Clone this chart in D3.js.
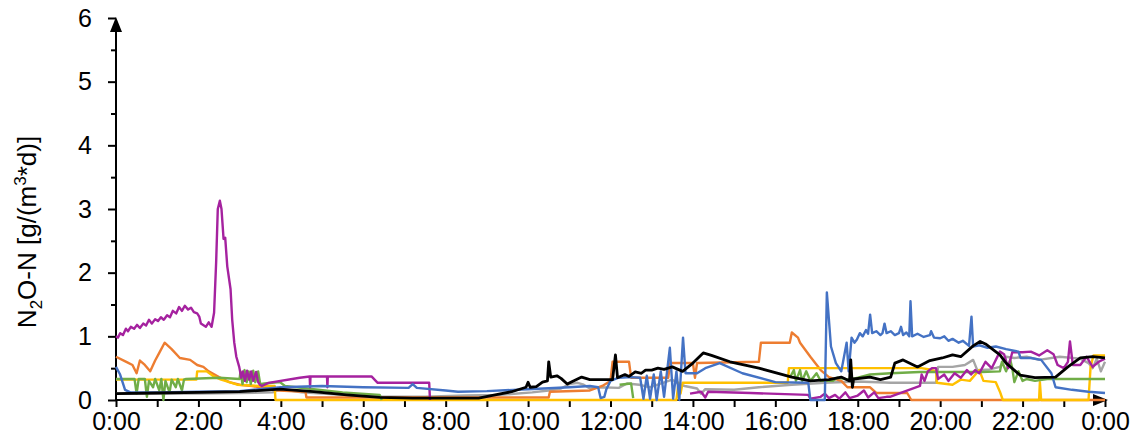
<!DOCTYPE html>
<html>
<head>
<meta charset="utf-8">
<script src="https://cdn.jsdelivr.net/npm/d3@7"></script>
<style>
  body { margin: 0; background: #fff; }
  svg { font-family: "Liberation Sans", Arial, sans-serif; }
</style>
</head>
<body>
<div id="chart"></div>
<script>
// x labels every 2 hours, ticks every hour
var xLabels = ["0:00","2:00","4:00","6:00","8:00","10:00","12:00","14:00","16:00","18:00","20:00","22:00","0:00"]
var yLabels = ["0","1","2","3","4","5","6"]

// [hour, N2O-N], null = no line
var purple = [[0,1.00],[0.05,0.98],[0.1,1.05],[0.17,1.02],[0.24,1.12],[0.29,1.08],[0.36,1.15],[0.44,1.12],[0.51,1.18],[0.58,1.13],[0.66,1.2],[0.73,1.17],[0.8,1.26],[0.87,1.2],[0.95,1.27],[1.02,1.24],[1.09,1.3],[1.16,1.26],[1.24,1.33],[1.31,1.3],[1.38,1.4],[1.46,1.36],[1.53,1.46],[1.6,1.4],[1.67,1.48],[1.75,1.42],[1.82,1.45],[1.89,1.38],[1.97,1.36],[2.02,1.31],[2.06,1.2],[2.18,1.15],[2.25,1.22],[2.32,1.15],[2.38,1.37],[2.43,2.16],[2.47,3.0],[2.52,3.13],[2.56,3.0],[2.61,2.53],[2.65,2.55],[2.7,2.1],[2.78,1.74],[2.82,1.26],[2.87,0.9],[2.92,0.68],[2.99,0.52],[3.04,0.35],[3.08,0.45],[3.13,0.3],[3.18,0.46],[3.23,0.32],[3.28,0.45],[3.33,0.3],[3.4,0.44],[3.45,0.28],[3.49,0.24],[3.54,0.22],[3.7,0.27],[4.46,0.35],[4.7,0.37],[4.71,0.2],[4.72,0.37],[5.12,0.37],[5.13,0.2],[5.14,0.37],[6.2,0.37],[6.35,0.27],[7.6,0.27],[7.62,0.0],[7.63,null],[13.9,null],[13.93,0.1],[14.2,0.13],[14.3,0.04],[14.37,0.13],[15.4,0.11],[16.8,0.08],[16.85,0.02],[17.1,0.05],[17.2,0.1],[17.3,0.03],[17.45,0.08],[17.55,0.02],[17.7,0.12],[17.8,0.03],[18.0,0.07],[18.15,0.15],[18.25,0.04],[18.4,0.12],[18.5,0.03],[18.7,0.05],[18.78,0.05],[19.51,0.22],[19.55,0.4],[19.62,0.3],[19.7,0.45],[19.8,0.5],[19.9,0.5],[19.95,0.33],[20.1,0.4],[20.2,0.3],[20.35,0.42],[20.5,0.35],[20.65,0.47],[20.75,0.4],[20.85,0.47],[20.95,0.42],[21.1,0.6],[21.25,0.5],[21.45,0.76],[21.55,0.72],[21.65,0.5],[21.75,0.75],[22.0,0.75],[22.2,0.76],[22.4,0.7],[22.6,0.78],[22.75,0.72],[22.85,0.55],[23.0,0.5],[23.1,0.6],[23.15,0.92],[23.22,0.55],[23.4,0.55],[23.55,0.68],[23.7,0.52],[23.85,0.6],[24,0.65]]

var blue = [[0,0.52],[0.1,0.4],[0.22,0.16],[0.35,0.12],[1,0.12],[2,0.13],[3,0.14],[4,0.2],[5,0.22],[6,0.2],[7.1,0.19],[7.2,0.25],[7.3,0.19],[8,0.15],[8.3,0.13],[9,0.14],[10,0.17],[11,0.2],[11.5,0.22],[11.7,0.2],[11.76,0.03],[11.85,0.05],[11.9,0.17],[12.0,0.3],[12.2,0.35],[12.5,0.36],[12.72,0.35],[12.8,0.02],[12.88,0.38],[12.96,0.02],[13.05,0.4],[13.12,0.0],[13.22,0.45],[13.3,0.05],[13.44,0.82],[13.52,0.02],[13.6,0.45],[13.67,0.0],[13.76,0.98],[13.82,0.42],[14.1,0.42],[14.3,0.5],[14.65,0.58],[15.2,0.42],[16.0,0.28],[16.8,0.27],[16.85,0.0],[17.2,0.0],[17.25,1.69],[17.35,0.84],[17.47,0.58],[17.6,0.45],[17.73,0.9],[17.78,0.45],[17.85,0.98],[17.92,0.9],[17.98,0.95],[18.05,1.05],[18.12,1.0],[18.2,1.1],[18.25,1.04],[18.3,1.34],[18.35,1.05],[18.45,1.08],[18.55,1.02],[18.6,1.05],[18.65,1.2],[18.7,1.05],[18.8,1.08],[18.9,1.02],[19.0,1.05],[19.05,1.15],[19.1,1.02],[19.18,1.06],[19.25,1.0],[19.28,1.55],[19.32,1.0],[19.45,1.04],[19.6,0.99],[19.75,1.02],[19.78,1.08],[19.85,0.98],[20.0,0.97],[20.1,1.0],[20.2,0.93],[20.3,0.96],[20.45,0.9],[20.55,0.93],[20.7,0.85],[20.76,1.31],[20.8,0.84],[20.95,0.86],[21.15,0.82],[21.35,0.84],[21.6,0.8],[21.9,0.76],[21.95,0.66],[22.2,0.66],[22.45,0.63],[22.7,0.42],[22.8,0.2],[23.2,0.16],[23.6,0.13],[24,0.11]]

var orange = [[0,0.68],[0.25,0.6],[0.4,0.55],[0.5,0.42],[0.58,0.62],[0.7,0.55],[0.83,0.45],[0.95,0.62],[1.05,0.74],[1.18,0.9],[1.35,0.8],[1.55,0.66],[1.8,0.63],[1.97,0.55],[2.12,0.52],[2.25,0.45],[2.5,0.36],[2.75,0.28],[3.0,0.24],[3.3,0.22],[3.95,0.15],[4.6,0.13],[4.62,0.04],[10.5,0.04],[10.53,0.13],[11.5,0.15],[11.8,0.22],[12.0,0.3],[12.05,0.6],[12.45,0.6],[12.5,0.35],[13.4,0.35],[13.45,0.58],[14.0,0.58],[14.05,0.35],[14.1,0.58],[15.6,0.6],[15.65,0.9],[16.35,0.9],[16.4,1.06],[16.55,0.98],[16.6,0.9],[16.85,0.68],[17.1,0.47],[17.3,0.36],[17.6,0.3],[17.75,0.2],[18.3,0.2],[18.45,0.11],[19.2,0.11],[19.3,0.0],[24,0.0]]

var yellow = [[0,0.32],[1.95,0.32],[1.97,0.45],[2.2,0.45],[2.35,0.38],[2.55,0.32],[2.75,0.28],[2.94,0.24],[3.5,0.22],[3.85,0.22],[3.87,0.0],[13.6,0.0],[13.65,0.27],[13.7,0.1],[13.75,0.27],[16.3,0.27],[16.33,0.5],[19.55,0.5],[19.75,0.48],[19.9,0.45],[19.92,0.27],[20.3,0.24],[20.5,0.32],[20.72,0.3],[20.95,0.47],[21.05,0.3],[21.35,0.28],[21.45,0.13],[21.52,0.0],[22.4,0.0],[22.42,0.28],[22.45,0.0],[23.6,0.0],[23.65,0.52],[23.72,0.7],[24,0.7]]

var green = [[0,0.33],[0.45,0.33],[0.5,0.1],[0.55,0.33],[0.7,0.33],[0.75,0.05],[0.8,0.3],[0.9,0.2],[0.95,0.33],[1.05,0.15],[1.1,0.33],[1.15,0.0],[1.2,0.3],[1.3,0.12],[1.35,0.32],[1.45,0.2],[1.5,0.33],[1.6,0.15],[1.65,0.32],[1.7,0.33],[2.5,0.35],[3.0,0.33],[3.02,0.45],[3.07,0.25],[3.12,0.47],[3.17,0.28],[3.22,0.45],[3.27,0.25],[3.33,0.46],[3.38,0.28],[3.45,0.45],[3.5,0.25],[3.6,0.26],[3.98,0.28],[4.1,0.22],[5.5,0.12],[6.4,0.08],[6.45,0.0],[6.46,null],[12.2,null],[12.22,0.24],[12.5,0.26],[12.55,0.03],[12.56,null],[16.3,null],[16.35,0.35],[16.45,0.47],[16.5,0.3],[16.6,0.47],[16.65,0.3],[16.75,0.45],[16.85,0.3],[17.0,0.42],[17.1,0.3],[17.4,0.3],[17.5,0.35],[17.8,0.32],[18.0,0.35],[18.3,0.4],[18.8,0.42],[19.5,0.44],[20.2,0.44],[21.0,0.44],[21.45,0.45],[21.5,0.6],[21.6,0.45],[21.7,0.63],[21.75,0.5],[21.8,0.28],[21.9,0.45],[22.0,0.3],[22.1,0.33],[22.3,0.3],[22.6,0.33],[24,0.33]]

var gray = [[0,0.1],[1,0.1],[2,0.1],[3,0.11],[3.8,0.12],[4,0.17],[4.5,0.12],[5.5,0.08],[6.4,0.05],[7.5,0.05],[8.5,0.07],[9.3,0.08],[10.1,0.12],[10.5,0.15],[10.8,0.18],[11.0,0.25],[11.2,0.27],[11.35,0.24],[11.5,0.18],[11.75,0.2],[12.2,0.19],[12.4,0.26],[12.7,0.24],[12.95,0.2],[13.5,0.32],[13.65,0.25],[13.8,0.22],[14.1,0.18],[14.2,0.1],[14.3,0.17],[15.0,0.16],[15.6,0.2],[16.4,0.24],[17.2,0.27],[18.0,0.29],[18.8,0.27],[19.9,0.27],[19.95,0.52],[20.3,0.52],[20.6,0.55],[20.8,0.63],[20.9,0.47],[21.2,0.48],[21.45,0.52],[21.6,0.68],[21.8,0.66],[22.1,0.68],[22.4,0.63],[22.9,0.68],[23.4,0.65],[23.6,0.58],[23.7,0.5],[23.8,0.65],[23.9,0.45],[24,0.6]]

var black = [[0,0.1],[1,0.11],[2,0.12],[3,0.13],[3.98,0.17],[4.8,0.13],[5.6,0.08],[6.4,0.04],[7.2,0.03],[8.8,0.03],[9.2,0.08],[9.6,0.13],[9.95,0.2],[10.0,0.28],[10.05,0.2],[10.2,0.21],[10.35,0.28],[10.47,0.3],[10.5,0.6],[10.55,0.36],[10.7,0.38],[10.8,0.34],[10.95,0.25],[11.1,0.3],[11.3,0.36],[11.5,0.32],[11.7,0.32],[12.05,0.32],[12.12,0.71],[12.17,0.35],[12.35,0.4],[12.45,0.37],[12.6,0.44],[12.75,0.42],[12.85,0.47],[13.0,0.47],[13.15,0.5],[13.3,0.48],[13.5,0.52],[13.75,0.45],[14.0,0.58],[14.25,0.74],[14.45,0.7],[14.9,0.6],[15.6,0.5],[16.4,0.36],[16.85,0.3],[17.3,0.32],[17.6,0.36],[17.8,0.3],[17.83,0.63],[17.87,0.2],[17.9,0.33],[18.3,0.36],[18.55,0.32],[18.8,0.36],[18.9,0.58],[19.1,0.63],[19.45,0.52],[19.75,0.62],[20.05,0.66],[20.3,0.71],[20.5,0.68],[20.8,0.85],[20.97,0.92],[21.1,0.88],[21.45,0.71],[21.6,0.58],[21.94,0.39],[22.3,0.35],[22.8,0.36],[23.1,0.52],[23.4,0.66],[23.7,0.68],[24,0.66]]

var series = [
  {data: gray, color: "#A5A5A5", w: 2.4},
  {data: orange, color: "#ED7D31", w: 2.4},
  {data: yellow, color: "#FFC000", w: 2.4},
  {data: green, color: "#70AD47", w: 2.4},
  {data: purple, color: "#A5229F", w: 2.4},
  {data: blue, color: "#4472C4", w: 2.4},
  {data: black, color: "#000000", w: 2.8}
]

var width = 1138, height = 446
var x0 = 116, x1 = 1105, yTop = 18, yBot = 400

var svg = d3.select("#chart").append("svg")
  .attr("width", width)
  .attr("height", height)

var x = d3.scaleLinear().domain([0, 24]).range([x0, x1])
var y = d3.scaleLinear().domain([0, 6]).range([yBot, yTop])

// x axis
var xAxis = d3.axisBottom(x)
  .tickValues(d3.range(0, 25, 1))
  .tickSizeInner(7)
  .tickSizeOuter(0)
  .tickPadding(5)
  .tickFormat(function(d) { return d % 2 === 0 ? xLabels[d / 2] : "" })

var gx = svg.append("g")
  .attr("transform", "translate(0," + yBot + ")")
  .call(xAxis)
gx.select(".domain").remove()
gx.selectAll("line").attr("stroke", "#000").attr("stroke-width", 2)
gx.selectAll("text").attr("font-size", 25).attr("fill", "#000")

// y axis
var yAxis = d3.axisLeft(y)
  .tickValues(d3.range(0, 6.01, 0.5))
  .tickSizeInner(8)
  .tickSizeOuter(0)
  .tickPadding(16)
  .tickFormat(function(d) { return d % 1 === 0 ? yLabels[d] : "" })

var gy = svg.append("g")
  .attr("transform", "translate(" + x0 + ",0)")
  .call(yAxis)
gy.select(".domain").remove()
gy.selectAll("line").attr("stroke", "#000").attr("stroke-width", 2)
  .attr("x2", function(d) { return d % 1 === 0 ? -8 : -5 })
gy.selectAll("text").attr("font-size", 25).attr("fill", "#000")

// axis lines with arrow heads
svg.append("line")
  .attr("x1", x0).attr("x2", x0)
  .attr("y1", yBot + 1).attr("y2", yTop + 6)
  .attr("stroke", "#000").attr("stroke-width", 2)
svg.append("line")
  .attr("x1", x0 - 1).attr("x2", x1)
  .attr("y1", yBot).attr("y2", yBot)
  .attr("stroke", "#000").attr("stroke-width", 2)
svg.append("path")
  .attr("d", "M" + x0 + "," + (yTop - 1) + "L" + (x0 - 6) + "," + (yTop + 14) + "L" + (x0 + 6) + "," + (yTop + 14) + "Z")
  .attr("fill", "#000")
svg.append("path")
  .attr("d", "M" + (x1 + 3) + "," + yBot + "L" + (x1 - 12) + "," + (yBot - 6) + "L" + (x1 - 12) + "," + (yBot + 6) + "Z")
  .attr("fill", "#000")

// series lines
var line = d3.line()
  .defined(function(d) { return d[1] != null })
  .x(function(d) { return x(d[0]) })
  .y(function(d) { return y(d[1]) })

svg.selectAll(".series")
  .data(series)
  .enter()
  .append("path")
  .attr("class", "series")
  .attr("d", function(s) { return line(s.data) })
  .attr("fill", "none")
  .attr("stroke", function(s) { return s.color })
  .attr("stroke-width", function(s) { return s.w })
  .attr("stroke-linejoin", "round")

// y title
var title = svg.append("text")
  .attr("transform", "translate(36,232) rotate(-90)")
  .attr("text-anchor", "middle")
  .attr("font-size", 26)
  .attr("fill", "#000")
title.append("tspan").text("N")
title.append("tspan").text("2").attr("font-size", 17).attr("dy", 6)
title.append("tspan").text("O-N [g/(m").attr("dy", -6)
title.append("tspan").text("3").attr("font-size", 17).attr("dy", -10)
title.append("tspan").text("*d)]").attr("dy", 10)
</script>
</body>
</html>
